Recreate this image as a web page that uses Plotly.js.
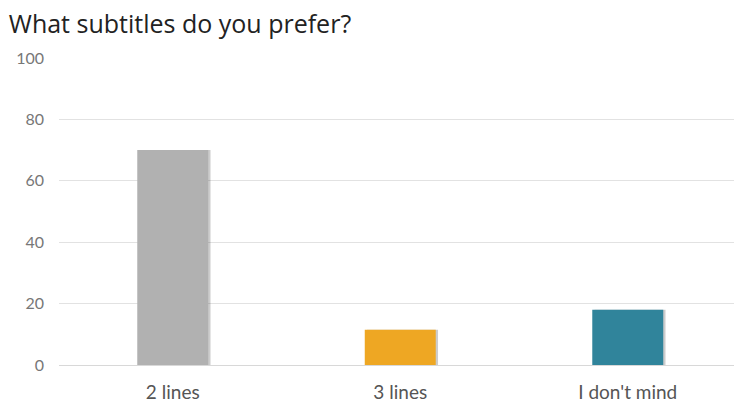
<!DOCTYPE html>
<html>
<head>
<meta charset="utf-8">
<script src="https://cdn.plot.ly/plotly-3.0.1.min.js"></script>
<style>html,body{margin:0;padding:0;background:#fff;}#chart{width:734px;height:407px;}</style>
</head>
<body>
<div id="chart"></div>
<script>
var categories = ["2 lines", "3 lines", "I don't mind"];
var values = [70, 11.5, 18];
var barColors = ["#b1b1b1", "#eea723", "#30849b"];
var yTicks = [0, 20, 40, 60, 80, 100];

var shadow = {
  type: "bar", x: categories, y: values,
  marker: {color: "rgba(0,0,0,0.2)", line: {width: 0}},
  width: 0.312, offset: -0.146, hoverinfo: "skip", showlegend: false
};
var bars = {
  type: "bar", x: categories, y: values,
  marker: {color: barColors, line: {width: 0}},
  width: 0.312, offset: -0.156, showlegend: false
};

var layout = {
  width: 734, height: 407,
  margin: {l: 59, r: 0, t: 58, b: 42},
  paper_bgcolor: "#fff", plot_bgcolor: "#fff",
  barmode: "overlay",
  title: {text: "What subtitles do you prefer?", x: 0.012, xanchor: "left", y: 0.94, yanchor: "middle",
          font: {family: "Open Sans, sans-serif", size: 25, color: "#222"}},
  xaxis: {type: "category", range: [-0.5, 2.467], showgrid: false, zeroline: false, showline: false,
          ticks: "", tickfont: {family: "Lato, sans-serif", size: 19, color: "#555"}, ticklabelstandoff: 14},
  yaxis: {range: [0, 100], tickvals: yTicks, showgrid: true, gridcolor: "#e2e2e2", gridwidth: 1,
          zeroline: true, zerolinecolor: "#d8d8d8", showline: false, ticks: "",
          tickfont: {family: "Lato, sans-serif", size: 16, color: "#777"}, ticklabelstandoff: 14}
};
Plotly.newPlot("chart", [shadow, bars], layout, {displayModeBar: false, staticPlot: true});
</script>
</body>
</html>
